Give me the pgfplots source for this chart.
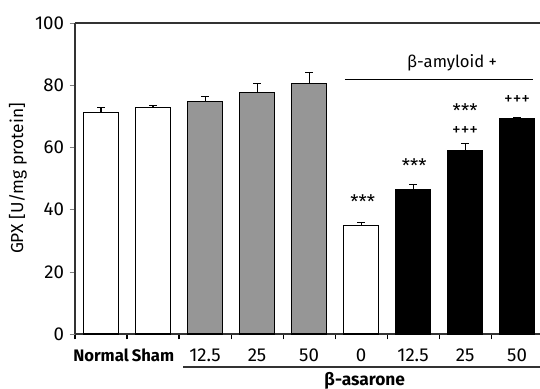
\documentclass[border=0pt]{standalone}
\usepackage{fontspec}
\setmainfont{Fira Sans}
\usepackage{pgfplots}
\pgfplotsset{compat=1.18}
\definecolor{bargray}{RGB}{150,150,150}
\begin{document}
\fontsize{12}{14}\selectfont
\begin{tikzpicture}
\path[use as bounding box] (-56.25pt,-41.25pt) rectangle (348.75pt,250.5pt);
\begin{axis}[
  at={(0,0)}, anchor=south west,
  scale only axis, width=348.75pt, height=233.25pt,
  xmin=0.5, xmax=9.44, ymin=0, ymax=100,
  axis x line=bottom, axis y line=left,
  axis line style={-, line width=0.8pt, black!80},
  clip=false,
  ytick={0,20,...,100},
  tick align=outside,
  major tick length=4pt,
  xtick={1,...,9},
  xticklabels={\textbf{\fontsize{12.5}{14}\selectfont Normal},\textbf{\fontsize{12.5}{14}\selectfont Sham},12.5,25,50,0,12.5,25,50},
  x tick style={draw=none},
  minor xtick={0.5,1.5,...,8.5},
  minor x tick style={draw=black, line width=0.8pt},
  minor tick length=4pt,
  xticklabel style={yshift=-3pt},
  /pgf/number format/assume math mode=true,
  tick label style={font=\fontsize{14}{16}\selectfont},
  ylabel={GPX [U/mg protein]},
  ylabel style={font=\fontsize{13}{15}\selectfont, at={(axis description cs:0,0.5)}, anchor=center, yshift=42.75pt},
  ybar, bar width=26.25pt, bar shift=0pt,
  error bars/y dir=plus, error bars/y explicit,
  error bars/error mark options={rotate=90, mark size=3pt, line width=0.8pt},
  error bars/error bar style={line width=0.8pt},
]
\addplot[draw=black, line width=0.8pt, fill=white] coordinates {
  (1,71.2) +- (0,1.7)
  (2,72.7) +- (0,0.9)
  (6,35.0) +- (0,0.8)
};
\addplot[draw=black, line width=0.8pt, fill=bargray] coordinates {
  (3,74.8) +- (0,1.7)
  (4,77.8) +- (0,2.8)
  (5,80.4) +- (0,3.6)
};
\addplot[draw=black, line width=0.8pt, fill=black] coordinates {
  (7,46.3) +- (0,1.8)
  (8,59.1) +- (0,2.2)
  (9,69.2) +- (0,0.3)
};
\draw[line width=0.8pt, black!80] (rel axis cs:0,1) -- (rel axis cs:1,1);
\draw[line width=0.8pt] (axis cs:5.69,81.7) -- (axis cs:9.31,81.7);
\node[font=\fontsize{12.5}{14}\selectfont] at (axis cs:7.75,87.3) {β-amyloid +};
\draw[line width=0.8pt, black!80] ([yshift=-24.75pt]axis cs:2.58,0) -- ([yshift=-24.75pt]axis cs:9.44,0);
\node[font=\bfseries\fontsize{13}{15}\selectfont] at ([yshift=-35pt]axis cs:6.07,0) {β-asarone};
\node[font=\fontsize{14}{16}\selectfont] at (axis cs:6.03,42.5) {***};
\node[font=\fontsize{14}{16}\selectfont] at (axis cs:7.02,54.0) {***};
\node[font=\fontsize{14}{16}\selectfont] at (axis cs:8.0,71.7) {***};
\node[font=\fontsize{13}{16}\selectfont] at (axis cs:8.0,65.3) {+++};
\node[font=\fontsize{13}{16}\selectfont] at (axis cs:9.0,75.2) {+++};
\end{axis}
\end{tikzpicture}
\end{document}
